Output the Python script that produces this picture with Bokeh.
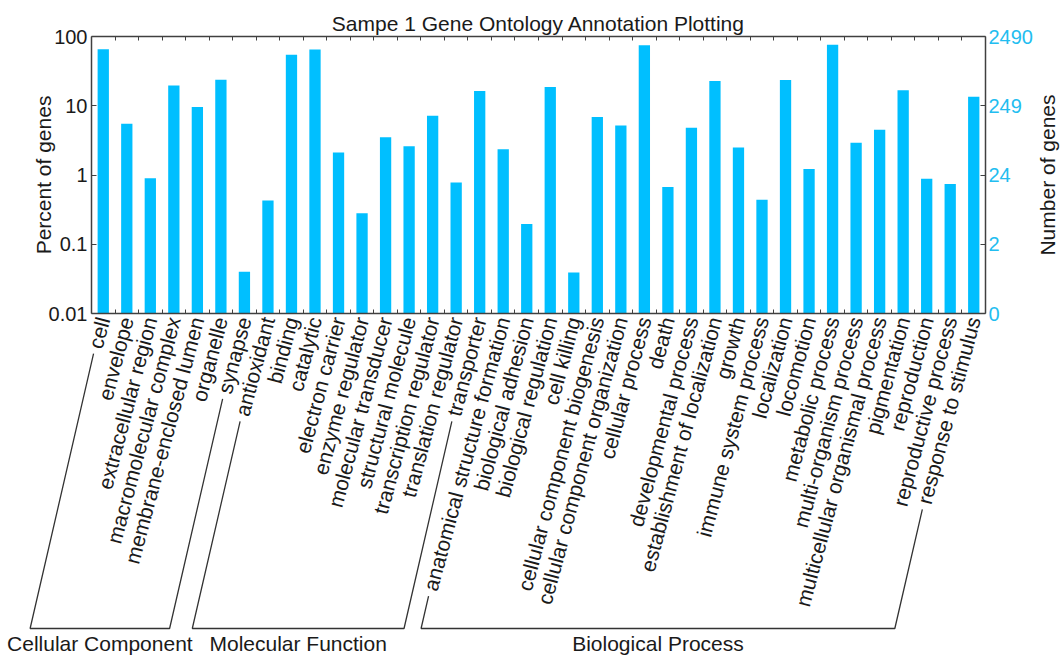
import math
from bokeh.plotting import figure
from bokeh.models import LinearAxis, LogAxis, FixedTicker, Range1d
from bokeh.core.properties import value
from bokeh.embed import file_html
from bokeh.resources import INLINE

# ---------------- data ----------------
categories = [
    "cell", "envelope", "extracellular region", "macromolecular complex",
    "membrane-enclosed lumen", "organelle", "synapse",
    "antioxidant", "binding", "catalytic", "electron carrier", "enzyme regulator",
    "molecular transducer", "structural molecule", "transcription regulator",
    "translation regulator", "transporter",
    "anatomical structure formation", "biological adhesion", "biological regulation",
    "cell killing", "cellular component biogenesis", "cellular component organization",
    "cellular process", "death", "developmental process",
    "establishment of localization", "growth", "immune system process",
    "localization", "locomotion", "metabolic process", "multi-organism process",
    "multicellular organismal process", "pigmentation", "reproduction",
    "reproductive process", "response to stimulus",
]
group_names = ["Cellular Component", "Molecular Function", "Biological Process"]
group_sizes = [7, 10, 21]
percent = [
    65.7, 5.5, 0.9, 19.6, 9.6, 23.7, 0.04,
    0.43, 54.4, 64.9, 2.12, 0.28, 3.5, 2.6, 7.2, 0.78, 16.3,
    2.35, 0.196, 18.6, 0.039, 6.9, 5.2, 74.9, 0.67, 4.8, 22.7, 2.5, 0.44,
    23.5, 1.22, 75.7, 2.93, 4.5, 16.8, 0.88, 0.74, 13.5,
]
left_tick_values = [0.01, 0.1, 1, 10, 100]
left_tick_labels = ["0.01", "0.1", "1", "10", "100"]
right_tick_labels = ["0", "2", "24", "249", "2490"]
title_text = "Sampe 1 Gene Ontology Annotation Plotting"
left_axis_title = "Percent of genes"
right_axis_title = "Number of genes"

# ---------------- style / geometry ----------------
FONT = "Liberation Sans"
BAR_COLOR = "#00BFFF"
RIGHT_COLOR = "#22BDF0"
TEXT_COLOR = "#1a1a1a"
FRAME_COLOR = "#404040"
CANVAS_W, CANVAS_H = 1062, 658
FL, FT, FW, FH = 91, 36, 894, 277          # frame left/top/width/height (px)
ANGLE = math.radians(75)
BRACKET_ANGLE = math.radians(77)
LABEL_FS = 21
LABEL_STANDOFF = 4
BRACKET_GAP = 6
BRACKET_BOTTOM = 628
GROUP_MIDDLE = 643

n = len(categories)
xs = list(range(1, n + 1))
y_lo, y_hi = left_tick_values[0], left_tick_values[-1]

W = dict(zip("abcdefghijklmnopqrstuvwxyz",
             [556, 556, 500, 556, 556, 278, 556, 556, 222, 222, 500, 222, 833,
              556, 556, 556, 556, 333, 500, 278, 556, 500, 722, 500, 500, 500]))
W[" "] = 278
W["-"] = 333

def text_w(s, fs):
    return sum(W.get(c, 556) for c in s) / 1000.0 * fs

def tick_px(xdata):
    return FL + (xdata - 0.5) / n * FW

# ================= main chart =================
p = figure(frame_width=FW, frame_height=FH,
           x_range=Range1d(0.5, n + 0.5), y_range=Range1d(y_lo, y_hi),
           y_axis_type="log", x_axis_location=None, y_axis_location=None,
           min_border_left=FL, min_border_top=FT,
           min_border_right=CANVAS_W - FL - FW, min_border_bottom=CANVAS_H - FT - FH,
           output_backend="svg", toolbar_location=None,
           background_fill_color="white", border_fill_color="white")
p.outline_line_color = None
p.xgrid.visible = False
p.ygrid.visible = False

p.title.text = title_text
p.title.align = "center"
p.title.text_font = FONT
p.title.text_font_size = "21px"
p.title.text_font_style = "normal"
p.title.text_color = TEXT_COLOR
p.title.standoff = 3

p.vbar(x=xs, top=percent, bottom=y_lo, width=0.48,
       fill_color=BAR_COLOR, line_color=None)

between = [i + 0.5 for i in range(1, n)]

def style_axis(ax):
    ax.axis_line_color = FRAME_COLOR
    ax.axis_line_width = 1.5
    ax.major_tick_line_color = FRAME_COLOR
    ax.minor_tick_line_color = FRAME_COLOR
    ax.major_tick_out = 0
    ax.minor_tick_out = 0
    ax.major_label_text_font = FONT
    ax.major_label_text_color = TEXT_COLOR
    ax.axis_label_text_font = FONT
    ax.axis_label_text_font_style = "normal"
    ax.axis_label_text_color = TEXT_COLOR

below = LinearAxis(ticker=FixedTicker(ticks=xs, minor_ticks=between),
                   major_label_overrides={i: c for i, c in zip(xs, categories)})
style_axis(below)
below.major_tick_in = 0
below.minor_tick_in = 4
below.major_label_orientation = ANGLE
below.major_label_standoff = LABEL_STANDOFF
below.major_label_text_font_size = f"{LABEL_FS}px"
p.add_layout(below, "below")

above = LinearAxis(ticker=FixedTicker(ticks=[], minor_ticks=between))
style_axis(above)
above.major_tick_in = 0
above.minor_tick_in = 4
above.major_label_text_font_size = "0px"
above.major_label_standoff = 0
p.add_layout(above, "above")

left = LogAxis(ticker=FixedTicker(ticks=left_tick_values, minor_ticks=[]),
               major_label_overrides=dict(zip(left_tick_values, left_tick_labels)),
               axis_label=left_axis_title)
style_axis(left)
left.major_tick_in = 5
left.major_label_standoff = 4
left.major_label_text_font_size = "20px"
left.axis_label_text_font_size = "21px"
left.axis_label_standoff = -9
p.add_layout(left, "left")

right = LogAxis(ticker=FixedTicker(ticks=left_tick_values, minor_ticks=[]),
                major_label_overrides=dict(zip(left_tick_values, right_tick_labels)))
style_axis(right)
right.major_tick_in = 5
right.major_label_standoff = 3
right.major_label_text_font_size = "20px"
right.major_label_text_color = RIGHT_COLOR
p.add_layout(right, "right")

# ================= overlay (brackets, group names, right axis title) =================
ov = figure(width=CANVAS_W, height=CANVAS_H,
            x_range=Range1d(0, CANVAS_W), y_range=Range1d(CANVAS_H, 0),
            x_axis_location=None, y_axis_location=None,
            min_border=0, min_border_left=0, min_border_right=0,
            min_border_top=0, min_border_bottom=0,
            output_backend="svg", toolbar_location=None,
            background_fill_color=None, border_fill_color=None)
ov.styles = {"position": "absolute", "left": "0px", "top": "0px"}
ov.outline_line_color = None
ov.xgrid.visible = False
ov.ygrid.visible = False

anchor_y = FT + FH + LABEL_STANDOFF
cs, sn = math.cos(ANGLE), math.sin(ANGLE)
cb, sb = math.cos(BRACKET_ANGLE), math.sin(BRACKET_ANGLE)

def bracket_end(idx):
    ax = tick_px(xs[idx])
    L = text_w(categories[idx], LABEL_FS) + BRACKET_GAP
    sx, sy = ax - L * cs, anchor_y + L * sn
    t = (BRACKET_BOTTOM - sy) / sb
    return sx, sy, sx - t * cb, BRACKET_BOTTOM

bx, by, gx, gy, gt = [], [], [], [], []
start = 0
for name, size in zip(group_names, group_sizes):
    a = bracket_end(start)
    b = bracket_end(start + size - 1)
    bx.append([a[0], a[2], b[2], b[0]])
    by.append([a[1], a[3], b[3], b[1]])
    gx.append((a[2] + b[2]) / 2)
    gy.append(GROUP_MIDDLE)
    gt.append(name)
    start += size

ov.multi_line(xs=bx, ys=by, line_color="#333333", line_width=1.3)
ov.text(x=gx, y=gy, text=gt, text_align="center", text_baseline="middle",
        text_font=value(FONT), text_font_size="21px", text_color=TEXT_COLOR)
ov.text(x=[CANVAS_W - 15], y=[FT + FH / 2], text=[right_axis_title],
        angle=math.pi / 2, text_align="center", text_baseline="middle",
        text_font=value(FONT), text_font_size="21px", text_color=TEXT_COLOR)

open("out.html", "w").write(file_html([p, ov], INLINE))
